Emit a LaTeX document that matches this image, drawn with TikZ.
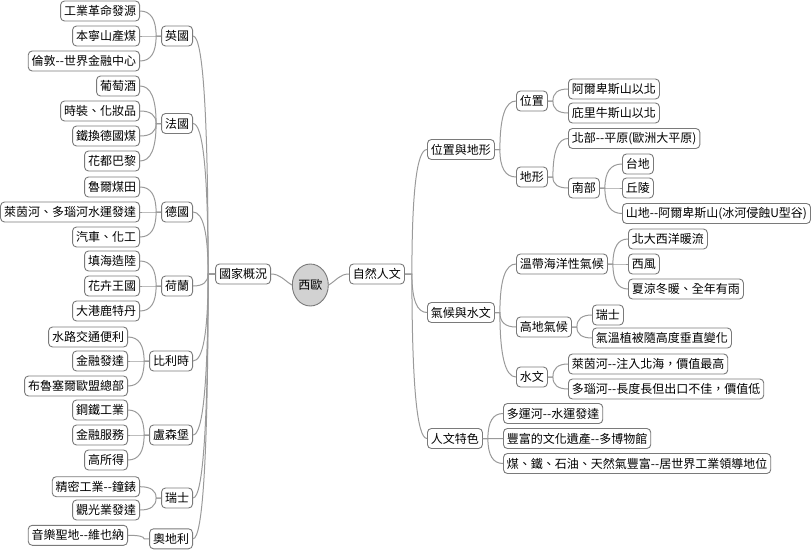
\documentclass[tikz,border=0pt]{standalone}
\usepackage{fontspec}
\setmainfont{Noto Sans CJK TC}[Ligatures=TeXOff]
\usetikzlibrary{calc,shapes.geometric}
\definecolor{boxgray}{HTML}{7A7A7A}
\definecolor{linegray}{HTML}{9A9A9A}
\definecolor{rootfill}{HTML}{D2D2D2}
\newcommand\lk[3]{\draw[lnk] (#1) -- ++(#3,0) coordinate (J) .. controls ($(J)!0.6667!(J|-#2)$) and ($(#2)!0.6667!(J|-#2)$) .. (#2);}
\begin{document}
\begin{tikzpicture}[x=1pt,y=-1pt,
  box/.style={draw=boxgray, line width=0.9pt, rounded corners=4pt, fill=white,
    inner xsep=3.5pt, inner ysep=0pt, minimum height=20pt,
    font=\fontsize{12}{12}\selectfont},
  lbox/.style={box, anchor=east},
  rbox/.style={box, anchor=west},
  lnk/.style={draw=linegray, line width=1pt}]
\useasboundingbox (0,0) rectangle (811,549);
% root
\node[ellipse, draw=boxgray, line width=0.9pt, fill=rootfill, minimum width=36pt,
  minimum height=42pt, inner sep=0pt, font=\fontsize{12}{12}\selectfont] (root) at (310.3,285) {西歐};
\node[lbox] (gk) at (271,274) {國家概況};
\node[rbox] (zr) at (349,274) {自然人文};
% left countries
\node[lbox] (uk) at (193,36) {英國};
\node[lbox] (uk1) at (140,11) {工業革命發源};
\node[lbox] (uk2) at (140,36) {本寧山產煤};
\node[lbox] (uk3) at (140,61) {倫敦--世界金融中心};
\node[lbox] (fr) at (193,123.5) {法國};
\node[lbox] (fr1) at (140,86) {葡萄酒};
\node[lbox] (fr2) at (140,111) {時裝、化妝品};
\node[lbox] (fr3) at (140,136) {鐵換德國煤};
\node[lbox] (fr4) at (140,161) {花都巴黎};
\node[lbox] (de) at (193,212) {德國};
\node[lbox] (de1) at (140,187) {魯爾煤田};
\node[lbox] (de2) at (140,212) {萊茵河、多瑙河水運發達};
\node[lbox] (de3) at (140,237) {汽車、化工};
\node[lbox] (nl) at (193,286) {荷蘭};
\node[lbox] (nl1) at (140,261) {填海造陸};
\node[lbox] (nl2) at (140,286) {花卉王國};
\node[lbox] (nl3) at (140,311) {大港鹿特丹};
\node[lbox] (be) at (193,361) {比利時};
\node[lbox] (be1) at (128,337) {水路交通便利};
\node[lbox] (be2) at (128,361) {金融發達};
\node[lbox] (be3) at (128,386) {布魯塞爾歐盟總部};
\node[lbox] (lu) at (193,435) {盧森堡};
\node[lbox] (lu1) at (128,410) {鋼鐵工業};
\node[lbox] (lu2) at (128,435) {金融服務};
\node[lbox] (lu3) at (128,460) {高所得};
\node[lbox] (ch) at (193,498) {瑞士};
\node[lbox] (ch1) at (140,486.7) {精密工業--鐘錶};
\node[lbox] (ch2) at (140,510) {觀光業發達};
\node[lbox] (at) at (193,538.8) {奧地利};
\node[lbox] (at1) at (128,535.3) {音樂聖地--維也納};
% right side
\node[rbox] (pos) at (427,149.5) {位置與地形};
\node[rbox] (wz) at (516,101) {位置};
\node[rbox] (wz1) at (568,89) {阿爾卑斯山以北};
\node[rbox] (wz2) at (568,113) {庇里牛斯山以北};
\node[rbox] (dx) at (516,177) {地形};
\node[rbox] (dx1) at (568,138.5) {北部--平原(歐洲大平原)};
\node[rbox] (dx2) at (568,188) {南部};
\node[rbox] (s1) at (622,164) {台地};
\node[rbox] (s2) at (622,188) {丘陵};
\node[rbox] (s3) at (622,213.5) {山地--阿爾卑斯山(冰河侵蝕U型谷)};
\node[rbox] (cl) at (427,312.5) {氣候與水文};
\node[rbox] (c1) at (516,264) {溫帶海洋性氣候};
\node[rbox] (c11) at (628,239) {北大西洋暖流};
\node[rbox] (c12) at (628,264) {西風};
\node[rbox] (c13) at (628,289) {夏涼冬暖、全年有雨};
\node[rbox] (c2) at (516,327) {高地氣候};
\node[rbox] (c21) at (592,315) {瑞士};
\node[rbox] (c22) at (592,338) {氣溫植被隨高度垂直變化};
\node[rbox] (c3) at (516,377) {水文};
\node[rbox] (c31) at (568,364) {萊茵河--注入北海，價值最高};
\node[rbox] (c32) at (568,389) {多瑙河--長度長但出口不佳，價值低};
\node[rbox] (hu) at (427,438.5) {人文特色};
\node[rbox] (h1) at (503,413.5) {多運河--水運發達};
\node[rbox] (h2) at (503,438.5) {豐富的文化遺產--多博物館};
\node[rbox] (h3) at (503,463.5) {煤、鐵、石油、天然氣豐富--居世界工業領導地位};
% root connectors
\draw[lnk] (gk.east) .. controls +(9,0) and +(-8,-5) .. (root.west);
\draw[lnk] (zr.west) .. controls +(-9,0) and +(8,-5) .. (root.east);
% left connectors
\foreach \c in {uk,fr,de,nl,be,lu,ch,at} {\lk{gk.west}{\c.east}{-7}}
\foreach \c in {uk1,uk2,uk3} {\lk{uk.west}{\c.east}{-5}}
\foreach \c in {fr1,fr2,fr3,fr4} {\lk{fr.west}{\c.east}{-5}}
\foreach \c in {de1,de2,de3} {\lk{de.west}{\c.east}{-5}}
\foreach \c in {nl1,nl2,nl3} {\lk{nl.west}{\c.east}{-5}}
\foreach \c in {be1,be2,be3} {\lk{be.west}{\c.east}{-5}}
\foreach \c in {lu1,lu2,lu3} {\lk{lu.west}{\c.east}{-5}}
\foreach \c in {ch1,ch2} {\lk{ch.west}{\c.east}{-5}}
\lk{at.west}{at1.east}{-5}
% right connectors
\foreach \c in {pos,cl,hu} {\lk{zr.east}{\c.west}{7}}
\foreach \c in {wz,dx} {\lk{pos.east}{\c.west}{5}}
\foreach \c in {wz1,wz2} {\lk{wz.east}{\c.west}{5}}
\foreach \c in {dx1,dx2} {\lk{dx.east}{\c.west}{5}}
\foreach \c in {s1,s2,s3} {\lk{dx2.east}{\c.west}{5}}
\foreach \c in {c1,c2,c3} {\lk{cl.east}{\c.west}{5}}
\foreach \c in {c11,c12,c13} {\lk{c1.east}{\c.west}{5}}
\foreach \c in {c21,c22} {\lk{c2.east}{\c.west}{5}}
\foreach \c in {c31,c32} {\lk{c3.east}{\c.west}{5}}
\foreach \c in {h1,h2,h3} {\lk{hu.east}{\c.west}{5}}
\end{tikzpicture}
\end{document}
